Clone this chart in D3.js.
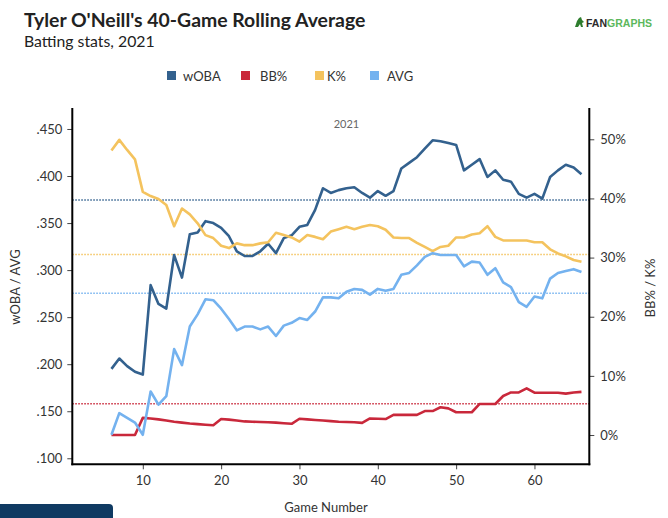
<!DOCTYPE html>
<html>
<head>
<meta charset="utf-8">
<script src="https://cdn.jsdelivr.net/npm/d3@7"></script>
<style>
body{margin:0;background:#fff;}
text{font-family:Lato,"Open Sans",sans-serif;}
</style>
</head>
<body>
<div id="vis1"></div>
<script>
// game numbers on the x axis
var games = [6,7,8,9,10,11,12,13,14,15,16,17,18,19,20,21,22,23,24,25,26,27,28,29,30,31,32,33,34,35,36,
    37,38,39,40,41,42,43,44,45,46,47,48,49,50,51,52,53,54,55,56,57,58,59,60,61,62,63,64,65,66];
// 40-game rolling values (left axis)
var woba = [.195,.206,.198,.192,.189,.284,.264,.259,.316,.292,.338,.340,.352,.350,.345,.336,.320,.315,.315,.320,
    .328,.318,.334,.337,.346,.348,.364,.387,.382,.385,.387,.388,.382,.377,.384,.379,.384,.408,.414,.420,
    .429,.438,.437,.435,.433,.406,.412,.418,.399,.406,.396,.394,.381,.377,.381,.376,.399,.406,.412,.409,.402];
var avg = [.125,.148,.143,.138,.125,.171,.157,.166,.216,.199,.240,.253,.269,.268,.259,.248,.236,.240,.240,.237,
    .240,.230,.241,.244,.249,.247,.256,.271,.271,.270,.277,.280,.279,.274,.280,.278,.280,.295,.297,.305,
    .314,.318,.316,.316,.316,.304,.309,.308,.295,.302,.287,.282,.266,.261,.272,.270,.291,.297,.299,.301,.298];
// percentages (right axis)
var bbPct = [0,0,0,0,2.9,2.8,2.65,2.45,2.25,2.1,1.95,1.85,1.75,1.65,2.7,2.6,2.45,2.3,2.25,2.2,
    2.15,2.1,2.0,1.9,2.75,2.65,2.55,2.45,2.35,2.25,2.2,2.15,2.05,2.8,2.75,2.7,3.4,3.4,3.4,3.4,
    4.05,4.05,4.7,4.5,3.85,3.85,3.85,5.25,5.25,5.25,6.6,7.2,7.2,7.9,7.15,7.15,7.15,7.15,7.0,7.2,7.3];
var kPct = [48.1,49.9,48.2,46.6,41.1,40.4,39.9,38.9,35.3,38.3,37.3,35.8,33.8,33.3,32.0,31.6,32.4,32.1,32.1,32.4,
    32.6,34.2,33.8,33.4,32.7,33.8,33.5,33.1,34.4,34.8,35.2,34.8,35.2,35.5,35.3,34.7,33.4,33.3,33.3,32.5,
    31.8,31.1,31.8,32.0,33.4,33.4,33.9,34.1,35.3,33.5,32.9,32.9,32.9,32.9,32.6,32.6,31.4,30.7,30.2,29.6,29.3];
// season averages shown as dotted lines
var avgLines = [["wOBA",.3745,"left"],["BB%",5.3,"right"],["K%",30.5,"right"],["AVG",.2755,"left"]];
var leftTicks = [.100,.150,.200,.250,.300,.350,.400,.450];
var rightTicks = [0,10,20,30,40,50];
var xTicks = [10,20,30,40,50,60];
var seriesNames = ["wOBA","BB%","K%","AVG"];
var colors = {"wOBA":"#33618e","BB%":"#c9283b","K%":"#f4c35e","AVG":"#74b2ef"};

var svg = d3.select("#vis1").append("svg").attr("width",668).attr("height",518);

// scales
var x = d3.scaleLinear().domain([1,67]).range([72.3,589.3]);
var yL = d3.scaleLinear().domain([.0936,.4723]).range([464.3,108]);
var yR = d3.scaleLinear().domain([-4.95,55.29]).range([464.3,108]);

// title + subtitle
svg.append("text").text("Tyler O'Neill's 40-Game Rolling Average").attr("x",24).attr("y",27)
    .attr("style","font-size:19.4px;font-weight:bold;fill:#222;");
svg.append("text").text("Batting stats, 2021").attr("x",24).attr("y",47)
    .attr("style","font-size:15.8px;fill:#222;");

// fangraphs logo
var logo = svg.append("g").attr("transform","translate(574,16)");
logo.append("path").attr("d","M1,11 L3,5 L5,2 L7,1 L8,4 L10,6 L8,7 L9,11 L7,11 L6,8 L4,11 Z").attr("fill","#2e7d2e");
logo.append("text").attr("x",12).attr("y",10.5).attr("textLength",66).attr("lengthAdjust","spacingAndGlyphs")
    .attr("style","font-size:11px;font-weight:bold;font-family:'Liberation Sans',Arial,sans-serif;")
    .html("<tspan fill='#2b2b2b'>FAN</tspan><tspan fill='#5cb85c'>GRAPHS</tspan>");

// legend
var legX = {"wOBA":[167,183],"BB%":[241,260],"K%":[315,327],"AVG":[370,387]};
seriesNames.forEach(function(n){
    svg.append("rect").attr("x",legX[n][0]).attr("y",71).attr("width",9).attr("height",9).attr("fill",colors[n]);
    svg.append("text").text(n).attr("x",legX[n][1]).attr("y",80.5).attr("style","font-size:13px;fill:#333;");
});

// season label
svg.append("text").text("2021").attr("x",x((games[0]+games[games.length-1])/2)).attr("y",128)
    .attr("style","font-size:11px;fill:#666;text-anchor:middle;");

// dotted average lines
avgLines.forEach(function(a){
    var yy = a[2]=="left" ? yL(a[1]) : yR(a[1]);
    svg.append("line").attr("x1",x(1)).attr("x2",x(67)).attr("y1",yy).attr("y2",yy)
        .attr("stroke",colors[a[0]]).attr("stroke-width",1.5).attr("stroke-dasharray","1.5,1.5");
});

// series lines
var rows = {"wOBA":woba,"BB%":bbPct,"K%":kPct,"AVG":avg};
seriesNames.forEach(function(n){
    var sc = (n=="wOBA"||n=="AVG") ? yL : yR;
    var line = d3.line().x((d,i) => x(games[i])).y(d => sc(d));
    svg.append("path").datum(rows[n]).attr("d",line).attr("fill","none")
        .attr("stroke",colors[n]).attr("stroke-width",2.6).attr("stroke-linejoin","round");
});

// axes
var fmtL = d => d3.format(".3f")(d).replace(/^0/,"");
var axL = svg.append("g").attr("transform","translate("+x(1)+",0)")
    .call(d3.axisLeft(yL).tickValues(leftTicks).tickFormat(fmtL).tickSize(5).tickPadding(5));
var axR = svg.append("g").attr("transform","translate("+x(67)+",0)")
    .call(d3.axisRight(yR).tickValues(rightTicks).tickFormat(d => d+"%").tickSize(5).tickPadding(6));
var axB = svg.append("g").attr("transform","translate(0,"+yL.range()[0]+")")
    .call(d3.axisBottom(x).tickValues(xTicks).tickSize(5).tickPadding(6));
[axL,axR,axB].forEach(function(a){
    a.select(".domain").remove();
    a.selectAll("text").attr("style","font-size:13px;fill:#333;font-family:Lato,sans-serif;");
    a.selectAll("line").attr("stroke","#444");
});
// thick black frame lines
svg.append("line").attr("x1",x(1)).attr("x2",x(1)).attr("y1",108).attr("y2",465.3).attr("stroke","#000").attr("stroke-width",2);
svg.append("line").attr("x1",x(67)).attr("x2",x(67)).attr("y1",108).attr("y2",465.3).attr("stroke","#000").attr("stroke-width",2);
svg.append("line").attr("x1",x(1)-1).attr("x2",x(67)+1).attr("y1",464.3).attr("y2",464.3).attr("stroke","#000").attr("stroke-width",2);

// axis titles
svg.append("text").text("wOBA / AVG").attr("transform","translate(20,287) rotate(-90)")
    .attr("style","font-size:13px;fill:#333;text-anchor:middle;");
svg.append("text").text("BB% / K%").attr("transform","translate(655,288) rotate(-90)")
    .attr("style","font-size:13px;fill:#333;text-anchor:middle;");
svg.append("text").text("Game Number").attr("x",326).attr("y",512)
    .attr("style","font-size:13px;fill:#333;text-anchor:middle;");

// dark tab at bottom left
svg.append("path").attr("d","M0,504 L109,504 Q113,504 113,508 L113,518 L0,518 Z").attr("fill","#0f3a62");
</script>
</body>
</html>
